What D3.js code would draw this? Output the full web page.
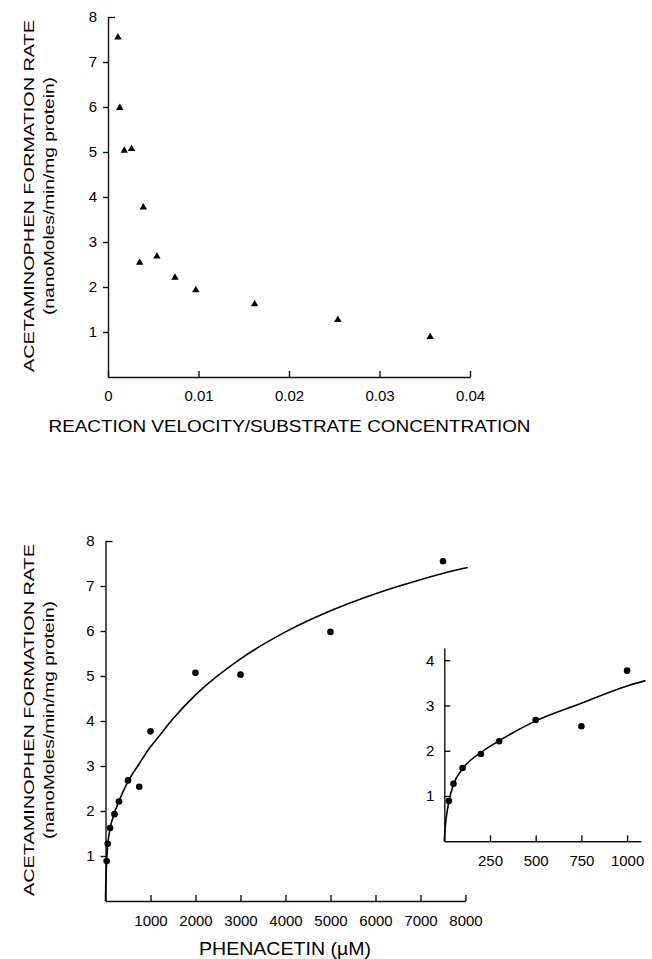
<!DOCTYPE html>
<html>
<head>
<meta charset="utf-8" />
<title>Acetaminophen formation rate</title>
<script src="https://d3js.org/d3.v7.min.js"></script>
<style>
  body { margin: 0; background: #fff; }
  svg text { font-family: "Liberation Sans", Arial, Helvetica, sans-serif; fill: #000; }
  .axis path, .axis line { stroke: #111; stroke-width: 1.4; }
  .axis text { font-size: 15px; }
</style>
</head>
<body>
<div id="chart"></div>
<script>
// measured points: phenacetin concentration (uM) and acetaminophen formation rate
var phenacetin = [25, 50, 100, 200, 300, 500, 750, 1000, 2000, 3000, 5000, 7500];
var rate = [0.89, 1.27, 1.62, 1.93, 2.21, 2.68, 2.54, 3.77, 5.07, 5.03, 5.98, 7.55];
// eadie-hofstee x values
var velocityOverSubstrate = [0.0356, 0.0254, 0.0162, 0.0097, 0.0074, 0.0054, 0.0035, 0.0039, 0.0026, 0.0018, 0.0013, 0.0011];

// fitted curve
var fitS = [0, 5, 10, 25, 50, 100, 200, 300, 500, 750, 1000, 1100, 1500, 2000, 3000, 4000, 5000, 6000, 7000, 8000, 8050];
var fitRate = [0, 0.3, 0.5, 0.88, 1.25, 1.6, 1.96, 2.22, 2.66, 3.05, 3.43, 3.55, 4.05, 4.58, 5.38, 5.98, 6.45, 6.83, 7.14, 7.40, 7.41];

// tick labels
var topXTicks = [0, 0.01, 0.02, 0.03, 0.04];
var rateTicks = [1, 2, 3, 4, 5, 6, 7, 8];
var phenTicks = [1000, 2000, 3000, 4000, 5000, 6000, 7000, 8000];
var insetXTicks = [250, 500, 750, 1000];
var insetYTicks = [1, 2, 3, 4];

var yTitle = "ACETAMINOPHEN FORMATION RATE",
    yUnits = "(nanoMoles/min/mg protein)";

var svg = d3.select("#chart").append("svg")
    .attr("width", 652)
    .attr("height", 959);

svg.append("rect").attr("width", 652).attr("height", 959).attr("fill", "#fff");

var points = phenacetin.map(function (s, i) {
    return { s: s, v: rate[i], vs: velocityOverSubstrate[i] };
});
var fit = fitS.map(function (s, i) { return { s: s, v: fitRate[i] }; });

function capTop(g, top) {
    // top tick of the y axis points into the plot
    g.selectAll(".tick").filter(function (d) { return d === top; })
        .select("line").attr("x2", 7);
}

function yTitles(cy) {
    svg.append("text")
        .attr("transform", "rotate(-90)")
        .attr("x", -cy).attr("y", 34)
        .attr("text-anchor", "middle")
        .style("font-size", "15px")
        .attr("textLength", 352).attr("lengthAdjust", "spacingAndGlyphs")
        .text(yTitle);
    svg.append("text")
        .attr("transform", "rotate(-90)")
        .attr("x", -cy).attr("y", 54)
        .attr("text-anchor", "middle")
        .style("font-size", "14.5px")
        .attr("textLength", 238).attr("lengthAdjust", "spacingAndGlyphs")
        .text(yUnits);
}

// ---- top panel ----
var xTop = d3.scaleLinear().domain([0, 0.04]).range([108, 470]),
    yTop = d3.scaleLinear().domain([0, 8]).range([377, 17]);

svg.append("g").attr("class", "axis")
    .attr("transform", "translate(0," + yTop(0) + ")")
    .call(d3.axisBottom(xTop).tickValues(topXTicks).tickSizeInner(-6).tickSizeOuter(0).tickPadding(13)
        .tickFormat(function (d) { return d === 0 ? "0" : d3.format(".2f")(d); }));

svg.append("g").attr("class", "axis")
    .attr("transform", "translate(" + xTop(0) + ",0)")
    .call(d3.axisLeft(yTop).tickValues(rateTicks).tickSizeInner(5).tickSizeOuter(0).tickPadding(6))
    .call(capTop, 8);

svg.append("g").selectAll("path.tri")
    .data(points)
    .enter().append("path")
    .attr("class", "tri")
    .attr("d", d3.symbol().type(d3.symbolTriangle).size(24))
    .attr("transform", function (d) { return "translate(" + xTop(d.vs) + "," + yTop(d.v) + ")"; })
    .attr("fill", "#000");

yTitles(196);

svg.append("text")
    .attr("x", 289.5).attr("y", 432)
    .attr("text-anchor", "middle")
    .style("font-size", "17px")
    .attr("textLength", 482).attr("lengthAdjust", "spacingAndGlyphs")
    .text("REACTION VELOCITY/SUBSTRATE CONCENTRATION");

// ---- bottom panel ----
var xBot = d3.scaleLinear().domain([0, 8000]).range([105.5, 465.5]),
    yBot = d3.scaleLinear().domain([0, 8]).range([901, 541]);

svg.append("g").attr("class", "axis")
    .attr("transform", "translate(0," + yBot(0) + ")")
    .call(d3.axisBottom(xBot).tickValues(phenTicks).tickSizeInner(-6).tickSizeOuter(0).tickPadding(14)
        .tickFormat(d3.format("d")));

svg.append("g").attr("class", "axis")
    .attr("transform", "translate(" + xBot(0) + ",0)")
    .call(d3.axisLeft(yBot).tickValues(rateTicks).tickSizeInner(5).tickSizeOuter(0).tickPadding(6))
    .call(capTop, 8);

var lineBot = d3.line()
    .x(function (d) { return xBot(d.s); })
    .y(function (d) { return yBot(d.v); })
    .curve(d3.curveMonotoneX);

svg.append("path")
    .datum(fit)
    .attr("d", lineBot)
    .attr("fill", "none")
    .attr("stroke", "#000")
    .attr("stroke-width", 1.6);

svg.append("g").selectAll("circle")
    .data(points)
    .enter().append("circle")
    .attr("cx", function (d) { return xBot(d.s); })
    .attr("cy", function (d) { return yBot(d.v); })
    .attr("r", 3.3)
    .attr("fill", "#000");

yTitles(720);

svg.append("text")
    .attr("x", 285).attr("y", 955)
    .attr("text-anchor", "middle")
    .style("font-size", "18px")
    .attr("textLength", 172).attr("lengthAdjust", "spacingAndGlyphs")
    .text("PHENACETIN (\u00b5M)");

// ---- inset ----
var xIn = d3.scaleLinear().domain([0, 1075]).range([444.3, 640.8]),
    yIn = d3.scaleLinear().domain([0, 4.27]).range([841.3, 648]);

svg.append("g").attr("class", "axis")
    .attr("transform", "translate(0," + yIn(0) + ")")
    .call(d3.axisBottom(xIn).tickValues(insetXTicks).tickSizeInner(-6).tickSizeOuter(0).tickPadding(14)
        .tickFormat(d3.format("d")));

svg.append("g").attr("class", "axis")
    .attr("transform", "translate(" + xIn(0) + ",0)")
    .call(d3.axisLeft(yIn).tickValues(insetYTicks).tickSizeInner(-6).tickSizeOuter(0).tickPadding(10)
        .tickFormat(d3.format("d")));

var lineIn = d3.line()
    .x(function (d) { return xIn(d.s); })
    .y(function (d) { return yIn(d.v); })
    .curve(d3.curveMonotoneX);

svg.append("path")
    .datum(fit.filter(function (d) { return d.s <= 1100; }))
    .attr("d", lineIn)
    .attr("fill", "none")
    .attr("stroke", "#000")
    .attr("stroke-width", 1.6);

svg.append("g").selectAll("circle")
    .data(points.filter(function (d) { return d.s <= 1000; }))
    .enter().append("circle")
    .attr("cx", function (d) { return xIn(d.s); })
    .attr("cy", function (d) { return yIn(d.v); })
    .attr("r", 3.3)
    .attr("fill", "#000");
</script>
</body>
</html>
